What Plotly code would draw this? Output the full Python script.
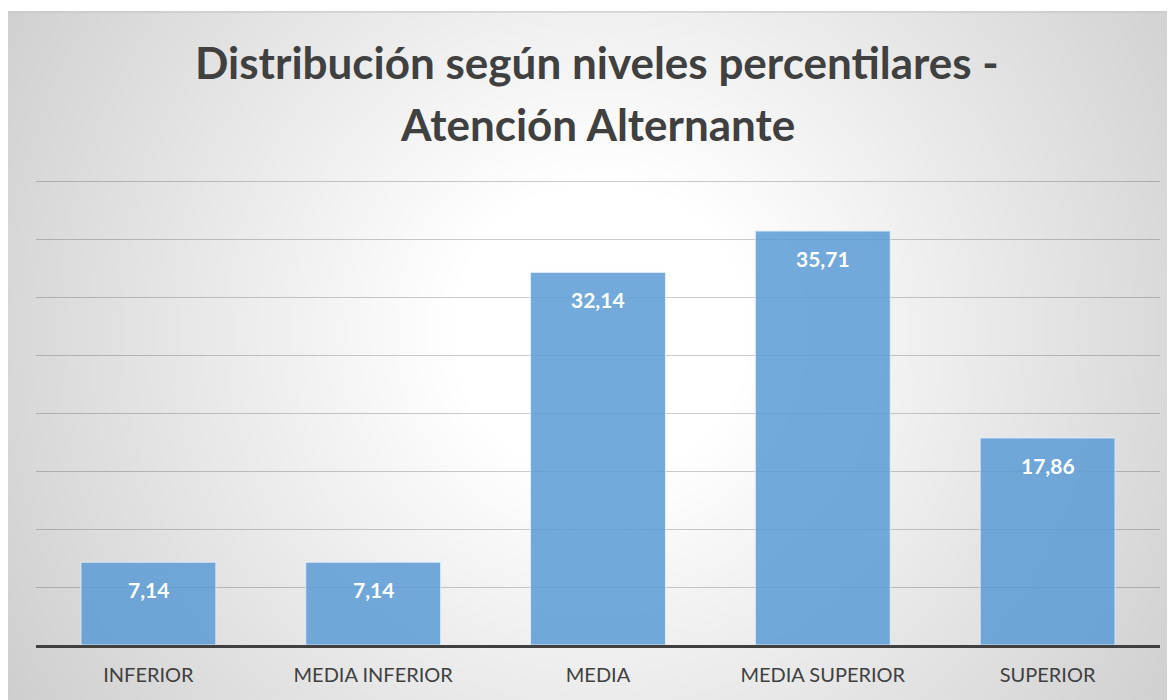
import zlib, struct, base64
import numpy as np
import plotly.graph_objects as go

categories = ["INFERIOR", "MEDIA INFERIOR", "MEDIA", "MEDIA SUPERIOR", "SUPERIOR"]
values = [7.14, 7.14, 32.14, 35.71, 17.86]
title_line1 = "Distribución según niveles percentilares -"
title_line2 = "Atención Alternante"
labels = [f"{v:.2f}".replace(".", ",") for v in values]

OFF = 8  # page body margin
W, H = 1175 - OFF, 700 - OFF
YMAX = 40.2
unit = 11.6  # px per unit
PL, PR = 36 - OFF, 1160 - OFF
PB = 645 - OFF
PT = PB - YMAX * unit
pw, ph = PR - PL, PB - PT

def px_x(x):  # page pixel -> paper
    return (x - OFF - PL) / pw

def px_y(y):
    return (PB - (y - OFF)) / ph

# radial gradient background image (styling only)
def png_gray(arr):
    h, w = arr.shape
    raw = b"".join(b"\x00" + arr[i].tobytes() for i in range(h))
    def chunk(t, d):
        c = struct.pack(">I", len(d)) + t + d
        return c + struct.pack(">I", zlib.crc32(t + d) & 0xffffffff)
    ihdr = struct.pack(">IIBBBBB", w, h, 8, 0, 0, 0, 0)
    return (b"\x89PNG\r\n\x1a\n" + chunk(b"IHDR", ihdr)
            + chunk(b"IDAT", zlib.compress(raw, 9)) + chunk(b"IEND", b""))

fx0, fy0 = 6, 11  # frame top-left in page pixels
gw, gh = 1175 - fx0, 700 - fy0
yy, xx = np.mgrid[0:gh, 0:gw]
cx, cy = 600 - fx0, 330 - fy0
d = np.sqrt((xx - cx) ** 2 + (yy - cy) ** 2)
g = 255 - 0.0889 * np.clip(d - 151, 0, None)
g = np.clip(g, 195, 255).astype(np.uint8)
src = "data:image/png;base64," + base64.b64encode(png_gray(g)).decode()

fig = go.Figure()
fig.add_trace(go.Bar(
    x=categories, y=values, width=0.6,
    marker=dict(color="rgba(91,155,213,0.85)",
                line=dict(color="rgba(225,236,248,0.9)", width=1)),
    hoverinfo="skip",
))

annotations = []
for c, v, t in zip(categories, values, labels):
    annotations.append(dict(
        x=c, y=v, xref="x", yref="y", text=t, showarrow=False,
        yanchor="top", yshift=-13,
        font=dict(family="Lato", size=21, color="white", weight="bold"),
    ))
annotations.append(dict(
    x=px_x(597), y=px_y(62), xref="paper", yref="paper", text=f"<b>{title_line1}</b>",
    showarrow=False, xanchor="center", yanchor="middle",
    font=dict(family="Lato", size=44, color="#404040"),
))
annotations.append(dict(
    x=px_x(597), y=px_y(124), xref="paper", yref="paper", text=f"<b>{title_line2}</b>",
    showarrow=False, xanchor="center", yanchor="middle",
    font=dict(family="Lato", size=44, color="#404040"),
))

fig.update_layout(
    width=W, height=H,
    margin=dict(l=PL, r=W - PR, t=PT, b=H - PB, autoexpand=False),
    paper_bgcolor="white",
    plot_bgcolor="rgba(0,0,0,0)",
    showlegend=False,
    annotations=annotations,
    images=[dict(
        source=src, xref="paper", yref="paper",
        x=px_x(fx0), y=px_y(fy0), sizex=gw / pw, sizey=gh / ph,
        xanchor="left", yanchor="top", sizing="stretch", layer="below",
    )],
    shapes=[dict(
        type="rect", xref="paper", yref="paper",
        x0=px_x(fx0 + 0.5), x1=px_x(1185), y0=px_y(710), y1=px_y(fy0 + 0.5),
        line=dict(color="#bdbdbd", width=1), fillcolor="rgba(0,0,0,0)",
    )],
    xaxis=dict(
        showline=True, linecolor="#404040", linewidth=3,
        showgrid=False, ticks="", ticklabelstandoff=10,
        tickfont=dict(family="Lato", size=20, color="#404040"),
        fixedrange=True,
    ),
    yaxis=dict(
        range=[0, YMAX], dtick=5, showticklabels=False, zeroline=False,
        showgrid=True, gridcolor="rgba(0,0,0,0.2)", gridwidth=1,
        fixedrange=True,
    ),
)

fig.write_html("out.html")
